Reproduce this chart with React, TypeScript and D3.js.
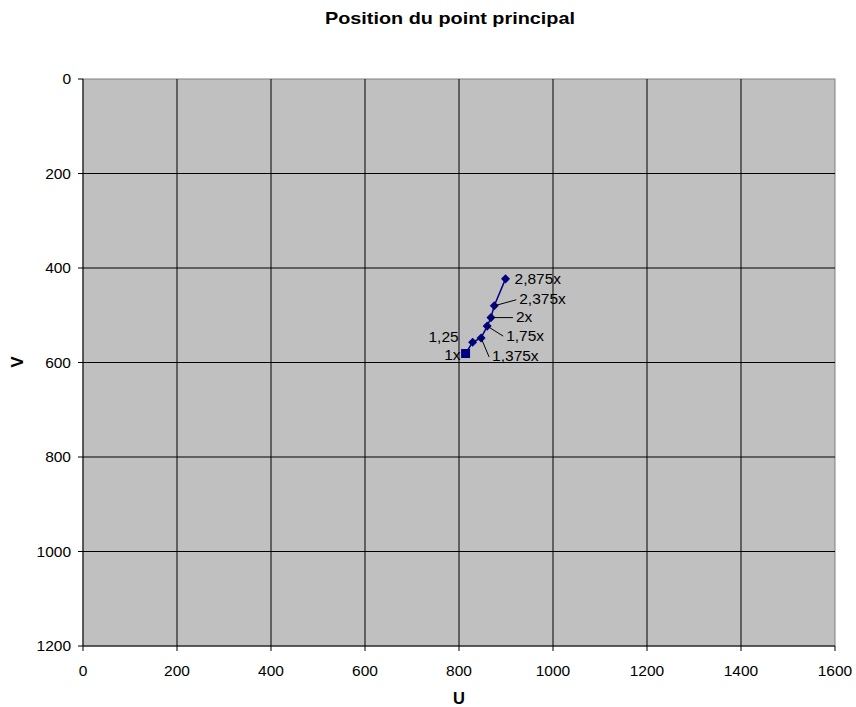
import React from "react";
import * as d3 from "d3";

const pointLabels = ["1x", "1,25", "1,375x", "1,75x", "2x", "2,375x", "2,875x"];
const uValues = [814, 829, 847, 860, 868, 875, 899];
const vValues = [581, 557, 548, 523, 505, 480, 423];
const xTicks = [0, 200, 400, 600, 800, 1000, 1200, 1400, 1600];
const yTicks = [0, 200, 400, 600, 800, 1000, 1200];

// label layout: [dx, dy, anchor, leader]
const labelLayout: [number, number, string, boolean][] = [
  [-5, 1, "end", false],
  [-14, -6, "end", false],
  [11, 18, "start", true],
  [19, 9, "start", true],
  [25, -1, "start", true],
  [25, -7, "start", true],
  [9, 0, "start", false],
];

const W = 856;
const H = 707;
const M = { left: 83, top: 79, right: 835, bottom: 646 };
const FONT = "'Liberation Sans', Arial, sans-serif";
const NAVY = "#000080";
const FS = 15.5;

export default function App() {
  const x = d3.scaleLinear().domain([0, 1600]).range([M.left, M.right]);
  const y = d3.scaleLinear().domain([0, 1200]).range([M.top, M.bottom]);
  const pts = uValues.map((u, i) => ({ u, v: vValues[i], label: pointLabels[i] }));
  const line = d3
    .line<{ u: number; v: number }>()
    .x((d) => x(d.u))
    .y((d) => y(d.v));
  const diamond = d3.symbol().type(d3.symbolDiamond2).size(52)();

  return (
    <svg
      width={W}
      height={H}
      style={{ position: "absolute", left: 0, top: 0, background: "#fff" }}
      fontFamily={FONT}
    >
      <text
        x={450}
        y={24}
        textAnchor="middle"
        fontSize={17}
        fontWeight="bold"
        textLength={250}
        lengthAdjust="spacingAndGlyphs"
      >
        Position du point principal
      </text>
      <rect
        x={M.left}
        y={M.top}
        width={M.right - M.left}
        height={M.bottom - M.top}
        fill="#C0C0C0"
        stroke="#808080"
        strokeWidth={1}
      />
      {xTicks.slice(1, -1).map((t) => (
        <line key={"gx" + t} x1={x(t)} x2={x(t)} y1={M.top} y2={M.bottom} stroke="#000" strokeWidth={1} />
      ))}
      {yTicks.slice(1, -1).map((t) => (
        <line key={"gy" + t} x1={M.left} x2={M.right} y1={y(t)} y2={y(t)} stroke="#000" strokeWidth={1} />
      ))}
      <line x1={M.left} x2={M.left} y1={M.top} y2={M.bottom} stroke="#000" />
      <line x1={M.left} x2={M.right} y1={M.bottom} y2={M.bottom} stroke="#000" />
      {yTicks.map((t) => (
        <g key={"ty" + t}>
          <line x1={M.left - 5} x2={M.left} y1={y(t)} y2={y(t)} stroke="#000" />
          <text x={M.left - 12} y={y(t)} dy="0.35em" textAnchor="end" fontSize={FS}>
            {t}
          </text>
        </g>
      ))}
      {xTicks.map((t) => (
        <g key={"tx" + t}>
          <line x1={x(t)} x2={x(t)} y1={M.bottom} y2={M.bottom + 5} stroke="#000" />
          <text x={x(t)} y={M.bottom + 25} dy="0.35em" textAnchor="middle" fontSize={FS}>
            {t}
          </text>
        </g>
      ))}
      <text x={459} y={698} dy="0.35em" textAnchor="middle" fontSize={16.5} fontWeight="bold">
        U
      </text>
      <text
        transform={`translate(17,362) rotate(-90)`}
        dy="0.35em"
        textAnchor="middle"
        fontSize={16.5}
        fontWeight="bold"
      >
        V
      </text>
      <path d={line(pts) || ""} fill="none" stroke={NAVY} strokeWidth={1.5} />
      {pts.map((p, i) =>
        i === 0 ? (
          <rect key={"m" + i} x={x(p.u) - 4.5} y={y(p.v) - 4.5} width={9} height={9} fill={NAVY} />
        ) : (
          <path key={"m" + i} d={diamond || ""} transform={`translate(${x(p.u)},${y(p.v)})`} fill={NAVY} />
        )
      )}
      {pts.map((p, i) => {
        const [dx, dy, anchor, leader] = labelLayout[i];
        const px = x(p.u);
        const py = y(p.v);
        return (
          <g key={"l" + i}>
            {leader && (
              <line x1={px} y1={py} x2={px + dx - 3} y2={py + dy + 1} stroke="#000" strokeWidth={1} />
            )}
            <text x={px + dx} y={py + dy} dy="0.35em" textAnchor={anchor} fontSize={FS}>
              {p.label}
            </text>
          </g>
        );
      })}
    </svg>
  );
}
